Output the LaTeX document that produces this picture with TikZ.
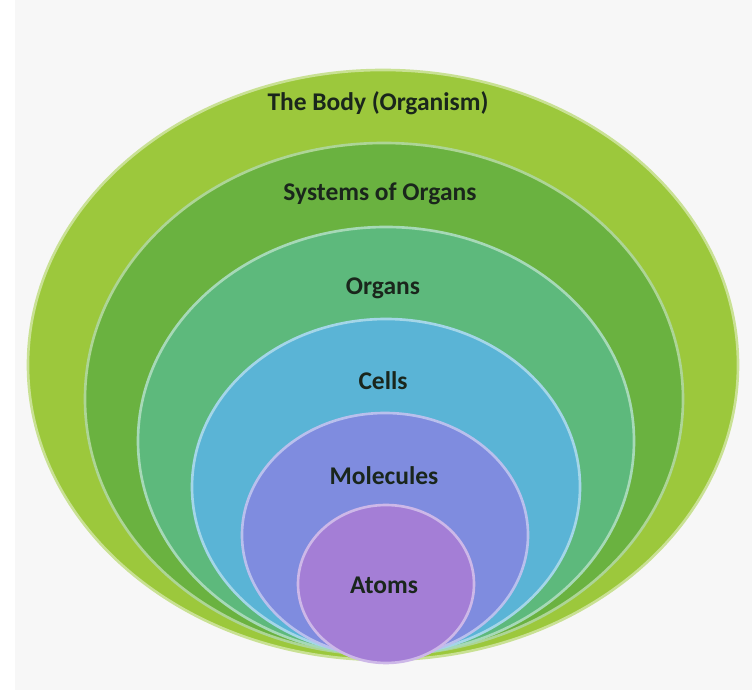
\documentclass[tikz,border=0pt]{standalone}
\usepackage{fontspec}
\setmainfont{Carlito}
\usetikzlibrary{shapes.geometric}
\definecolor{bodygreen}{HTML}{9CC83C}
\definecolor{systemgreen}{HTML}{6AB240}
\definecolor{organteal}{HTML}{5DB97C}
\definecolor{cellblue}{HTML}{5AB4D6}
\definecolor{moleculeblue}{HTML}{7F8CDF}
\definecolor{atompurple}{HTML}{A47ED6}
\definecolor{captiondark}{HTML}{1A261C}
\begin{document}
\begin{tikzpicture}[level/.style={ellipse, draw=#1!55!white, line width=1.5pt, fill=#1, inner sep=0pt}, caption/.style={font=\bfseries\fontsize{14.5}{16}\selectfont, text=captiondark}]
	\fill[gray!6] (0,0) rectangle (15.04,13.8);
	\fill[white] (0,0) rectangle (0.3,13.8);
	\node[level=bodygreen, minimum width=14.2cm, minimum height=11.8cm] (body) at (7.66,6.5) {};
	\node[level=systemgreen, minimum width=11.96cm, minimum height=10.24cm] (systems) at (7.68,5.82) {};
	\node[level=organteal, minimum width=9.92cm, minimum height=8.56cm] (organs) at (7.72,4.98) {};
	\node[level=cellblue, minimum width=7.76cm, minimum height=6.72cm] (cells) at (7.72,4.06) {};
	\node[level=moleculeblue, minimum width=5.72cm, minimum height=4.88cm] (molecules) at (7.7,3.1) {};
	\node[level=atompurple, minimum width=3.52cm, minimum height=3.16cm] (atoms) at (7.72,2.12) {};
	\node[caption] (bodytext) at (7.56,11.74) {The Body (Organism)};
	\node[caption] (systemstext) at (7.6,9.92) {Systems of Organs};
	\node[caption] (organstext) at (7.66,8.04) {Organs};
	\node[caption] (cellstext) at (7.66,6.18) {Cells};
	\node[caption] (moleculestext) at (7.68,4.28) {Molecules};
	\node[caption] (atomstext) at (7.68,2.1) {Atoms};
\end{tikzpicture}
\end{document}
